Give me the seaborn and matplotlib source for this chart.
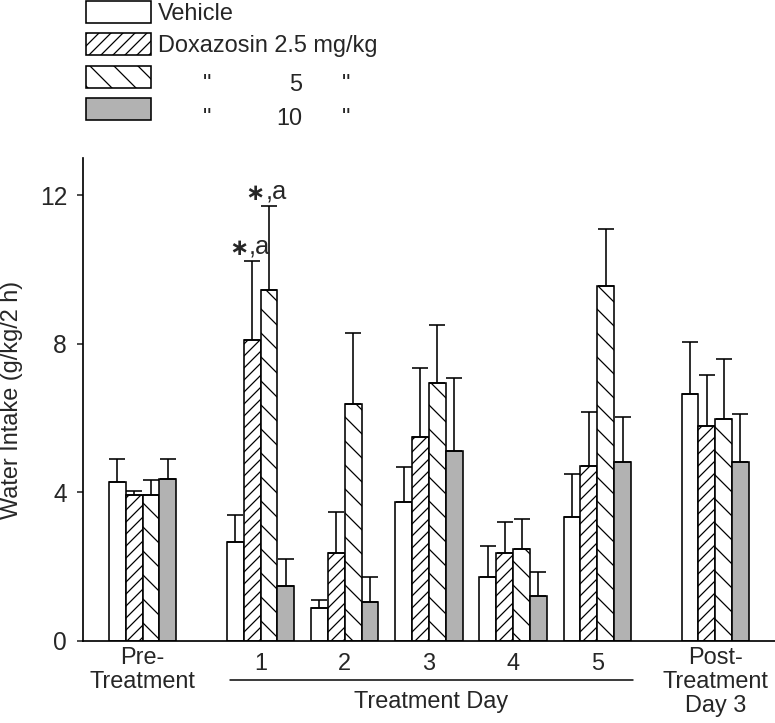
import numpy as np
import pandas as pd
import matplotlib
matplotlib.use("Agg")
import matplotlib.pyplot as plt
import matplotlib.transforms as mtransforms
from matplotlib.patches import Patch
import seaborn as sns

# ---------------- data ----------------
groups = ["Pre", "D1", "D2", "D3", "D4", "D5", "Post"]
group_pos = [0.0, 1.4, 2.4, 3.4, 4.4, 5.4, 6.8]
tick_labels = ["Pre-\nTreatment", "1", "2", "3", "4", "5", "Post-\nTreatment\nDay 3"]
treatments = ["Vehicle", "Doxazosin 2.5 mg/kg", "Doxazosin 5 mg/kg", "Doxazosin 10 mg/kg"]
legend_labels = ["Vehicle", "Doxazosin 2.5 mg/kg", "", ""]
ditto_doses = ["5", "10"]

vehicle = [4.29, 2.67, 0.88, 3.75, 1.72, 3.33, 6.65]
vehicle_err = [0.61, 0.73, 0.22, 0.92, 0.83, 1.17, 1.39]
dox25 = [3.93, 8.09, 2.38, 5.49, 2.37, 4.72, 5.80]
dox25_err = [0.12, 2.15, 1.09, 1.86, 0.84, 1.45, 1.35]
dox5 = [3.93, 9.44, 6.39, 6.95, 2.48, 9.56, 5.97]
dox5_err = [0.40, 2.28, 1.91, 1.55, 0.81, 1.54, 1.61]
dox10 = [4.36, 1.48, 1.06, 5.12, 1.22, 4.82, 4.82]
dox10_err = [0.55, 0.74, 0.65, 1.95, 0.65, 1.20, 1.29]

# significance marks: (treatment index, group index, text)
sig_marks = [(1, 1, ",a"), (2, 1, ",a")]

# ---------------- style ----------------
DPI = 144


def pt(px):
    return px * 72.0 / DPI


sns.set_style("white")
plt.rcParams["font.family"] = ["Liberation Sans", "DejaVu Sans"]
plt.rcParams["hatch.color"] = "black"
plt.rcParams["hatch.linewidth"] = pt(1.25)

FS = pt(23.5)
fig = plt.figure(figsize=(775 / DPI, 723 / DPI), dpi=DPI)
ax = fig.add_axes([83 / 775, 1 - 641 / 723, 1 - 83 / 775, (641 - 158) / 723])

means = [vehicle, dox25, dox5, dox10]
errs = [vehicle_err, dox25_err, dox5_err, dox10_err]
rows = []
for t, vals in zip(treatments, means):
    for p, v in zip(group_pos, vals):
        rows.append({"pos": p, "value": v, "treatment": t})
df = pd.DataFrame(rows)

colors = {"Vehicle": "white", "Doxazosin 2.5 mg/kg": "white",
          "Doxazosin 5 mg/kg": "white", "Doxazosin 10 mg/kg": "#b2b2b2"}
hatches = ["", "////", "\\\\", ""]

sns.barplot(data=df, x="pos", y="value", hue="treatment", hue_order=treatments,
            native_scale=True, errorbar=None, width=0.8, palette=colors,
            saturation=1, edgecolor="black", linewidth=pt(1.6), legend=False, ax=ax)

for cont, h in zip(ax.containers, hatches):
    for bar in cont:
        bar.set_hatch(h)
        bar.set_edgecolor("black")

# error bars (upper only)
bar_centers = []
for cont, e in zip(ax.containers, errs):
    xs = np.array([b.get_x() + b.get_width() / 2 for b in cont])
    ys = np.array([b.get_height() for b in cont])
    bar_centers.append((xs, ys))
    ax.errorbar(xs, ys, yerr=[np.zeros(len(e)), np.array(e)], fmt="none",
                ecolor="black", elinewidth=pt(1.6), capsize=pt(7.7), capthick=pt(1.6),
                zorder=3)

# significance annotations
for ti, gi, txt in sig_marks:
    xs, ys = bar_centers[ti]
    top = ys[gi] + errs[ti][gi]
    ax.annotate(txt, xy=(xs[gi], top), xytext=(pt(-3), pt(7)), textcoords="offset points",
                ha="left", va="baseline", fontsize=pt(25.5))
    ax.annotate("\u2217", xy=(xs[gi], top), xytext=(pt(-4), pt(12.5)),
                textcoords="offset points", ha="right", va="center", fontsize=pt(23),
                fontweight="bold", family=["DejaVu Sans"])

# axes styling
ax.set_ylim(0, 13)
ax.set_xlim(-0.708, 7.51)
ax.set_yticks([0, 4, 8, 12])
ax.set_xticks(group_pos)
ax.set_xticklabels(tick_labels, fontsize=FS, linespacing=1.1)
ax.tick_params(axis="y", direction="out", length=pt(6), width=pt(1.6), pad=pt(10),
               labelsize=pt(24.5), left=True)
ax.tick_params(axis="x", length=0, pad=pt(11.5))
for lab in ax.get_xticklabels():
    if "\n" in lab.get_text():
        lab.set_transform(lab.get_transform() +
                          mtransforms.ScaledTranslation(0, 5 / DPI, fig.dpi_scale_trans))
for s in ["top", "right"]:
    ax.spines[s].set_visible(False)
for s in ["left", "bottom"]:
    ax.spines[s].set_linewidth(pt(1.7))
    ax.spines[s].set_color("black")
ax.set_xlabel("")
ax.set_ylabel("Water Intake (g/kg/2 h)", fontsize=FS)
ax.yaxis.set_label_coords(-0.087, 0.5)

# treatment-day bracket
blend = mtransforms.blended_transform_factory(ax.transData, ax.transAxes)
ax.plot([group_pos[1] - 0.36, group_pos[5] + 0.42], [-0.0807, -0.0807], color="black",
        lw=pt(1.5), transform=blend, clip_on=False)
ax.text((group_pos[1] + group_pos[5]) / 2 + 0.03, -0.1387, "Treatment Day", transform=blend,
        ha="center", va="baseline", fontsize=FS)

# legend
handles = [Patch(facecolor=colors[t], edgecolor="black", hatch=h, linewidth=pt(1.6))
           for t, h in zip(treatments, hatches)]
fig.legend(handles, legend_labels, loc="upper left", bbox_to_anchor=(86 / 775, 1 - 1 / 723),
           frameon=False, borderpad=0, borderaxespad=0, fontsize=FS,
           handlelength=2.75, handleheight=1.06, labelspacing=0.36, handletextpad=0.31)
for dose, yb in zip(ditto_doses, [90.7, 125.0]):
    fig.text(207 / 775, 1 - yb / 723, '"', ha="center", va="baseline", fontsize=FS)
    fig.text(302 / 775, 1 - yb / 723, dose, ha="right", va="baseline", fontsize=FS)
    fig.text(346 / 775, 1 - yb / 723, '"', ha="center", va="baseline", fontsize=FS)

fig.savefig("out.png", dpi=DPI)
